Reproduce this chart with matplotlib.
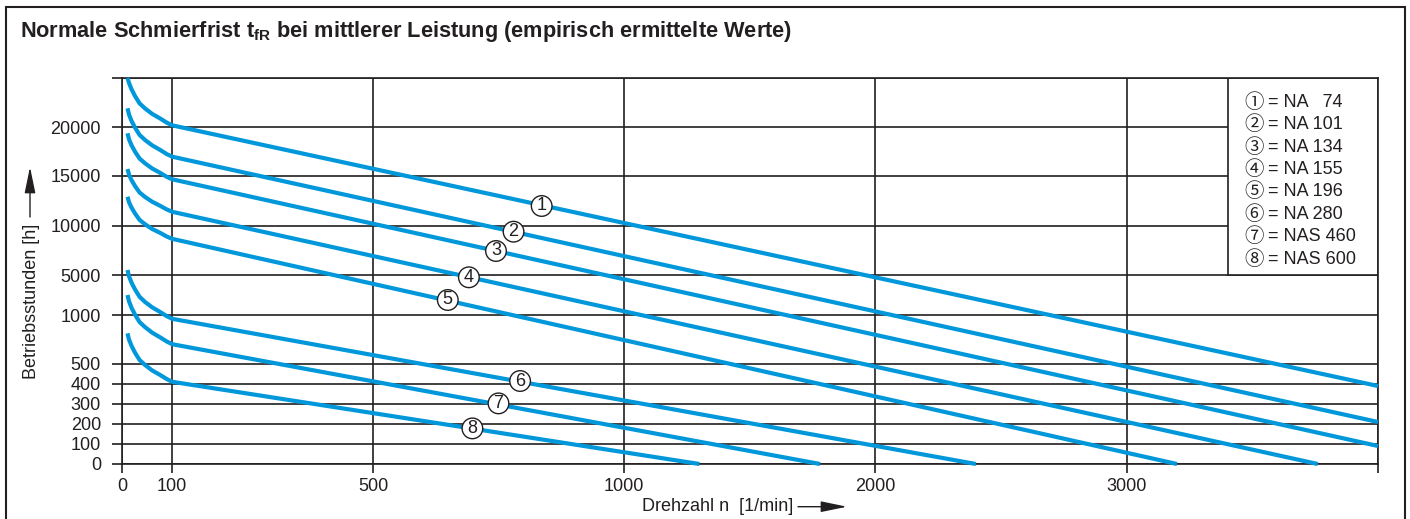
import numpy as np
import matplotlib
matplotlib.use("Agg")
import matplotlib.pyplot as plt
from matplotlib.patches import Rectangle

plt.rcParams["font.family"] = ["Liberation Sans", "DejaVu Sans"]
plt.rcParams["mathtext.fontset"] = "custom"
plt.rcParams["mathtext.rm"] = "Liberation Sans"
plt.rcParams["mathtext.bf"] = "Liberation Sans:bold"

# Kurven: Drehzahl n [1/min] und Schmierfrist [h]
n_anlauf = [11, 14, 19, 26, 35, 46, 60, 76, 89, 100]
n_ende = [4000, 4000, 4000, 3760, 3200, 2400, 1780, 1300]
t_ende = [390, 210, 90, 0, 0, 0, 0, 0]
stunden_anlauf = [
    [25000, 24490, 23850, 23150, 22410, 21890, 21340, 20870, 20450, 20170],
    [21910, 21270, 20620, 19930, 19190, 18670, 18130, 17660, 17240, 16970],
    [19360, 18740, 18130, 17480, 16780, 16290, 15770, 15320, 14920, 14670],
    [15710, 15140, 14590, 13990, 13350, 12900, 12430, 12020, 11660, 11420],
    [12930, 12380, 11840, 11250, 10610, 10170, 9700, 9300, 8930, 8690],
    [5510, 4870, 4230, 3550, 2820, 2300, 1770, 1300, 989, 961],
    [3000, 2360, 1720, 1030, 928, 876, 820, 772, 730, 702],
    [813, 749, 685, 615, 541, 495, 468, 445, 425, 411],
]
fette = ["NA   74", "NA 101", "NA 134", "NA 155", "NA 196", "NA 280", "NAS 460", "NAS 600"]
kreis = ["\u2460", "\u2461", "\u2462", "\u2463", "\u2464", "\u2465", "\u2466", "\u2467"]

# Lage der Kurvennummern
label_n = [836, 780, 745, 691, 649, 793, 750, 698]
label_t = [12000, 9420, 7450, 4770, 2500, 415, 303, 178]

x_ticks = [0, 100, 500, 1000, 2000, 3000, 4000]
x_labels = ["0", "100", "500", "1000", "2000", "3000", ""]
y_ticks = [0, 100, 200, 300, 400, 500, 1000, 5000, 10000, 15000, 20000, 25000]
y_labels = ["0", "100", "200", "300", "400", "500", "1000", "5000", "10000", "15000", "20000", ""]

# nichtlineare Achsenteilung wie im Diagramm
x_val = [0, 1000, 4000]
x_pos = [0, 502, 1256]
y_val = [0, 500, 1000, 5000, 10000, 15000, 20000, 25000]
y_pos = [0, 100, 149, 189, 238, 288, 337, 386]


def x_fwd(v):
    return np.interp(v, x_val, x_pos)


def x_inv(p):
    return np.interp(p, x_pos, x_val)


def y_fwd(v):
    return np.interp(v, y_val, y_pos)


def y_inv(p):
    return np.interp(p, y_pos, y_val)


W, H = 1410, 519
dunkel = "#231f20"
blau = "#0098da"
fs = 13

fig = plt.figure(figsize=(W / 100, H / 100), dpi=100)
ax = fig.add_axes([122 / W, 55 / H, (1378 - 122) / W, (464 - 78) / H])
ax.set_xscale("function", functions=(x_fwd, x_inv))
ax.set_yscale("function", functions=(y_fwd, y_inv))
ax.set_xlim(0, 4000)
ax.set_ylim(0, 25000)

ax.set_xticks(x_ticks)
ax.set_xticklabels(x_labels)
ax.set_yticks(y_ticks)
ax.set_yticklabels(y_labels)
ax.minorticks_off()
ax.tick_params(axis="both", colors=dunkel, labelcolor=dunkel, width=1.2,
               labelsize=fs, direction="out")
ax.tick_params(axis="x", length=6.5, pad=3.5)
ax.tick_params(axis="y", length=7.2, pad=8)
for s in ax.spines.values():
    s.set_color(dunkel)
    s.set_linewidth(1.2)
ax.set_axisbelow(True)
ax.grid(True, color=dunkel, lw=1.2)

for t, ne, te in zip(stunden_anlauf, n_ende, t_ende):
    ax.plot(n_anlauf + [ne], t + [te], color=blau, lw=3.0, solid_capstyle="butt",
            solid_joinstyle="round", zorder=3, clip_on=False)

for i, (n, t) in enumerate(zip(label_n, label_t)):
    ax.text(n, t, str(i + 1), ha="center", va="center", fontsize=fs, color=dunkel,
            zorder=5, bbox=dict(boxstyle="circle,pad=0.1", fc="white", ec=dunkel, lw=1.0))

# Legende
ax.add_patch(Rectangle((3404, 5000), 4000 - 3404, 20000, fc="white", ec=dunkel,
                       lw=1.2, zorder=2))
for i, (k, name) in enumerate(zip(kreis, fette)):
    y = 1 - (102.3 + i * 22.4) / H
    fig.text(1254 / W, y, k, ha="center", va="center", fontsize=14, color=dunkel,
             family=["Noto Sans CJK JP", "DejaVu Sans"])
    fig.text(1268 / W, y, "= " + name, ha="left", va="center", fontsize=fs,
             color=dunkel)

# Titel
fig.text(20 / W, 1 - 32 / H,
         r"Normale Schmierfrist t$_{\mathbf{fR}}$ bei mittlerer Leistung (empirisch ermittelte Werte)",
         fontsize=15.7, fontweight="bold", color=dunkel, ha="left", va="center")

# Achsenbeschriftungen mit Pfeilen
fig.text(31.7 / W, 1 - 301.5 / H, "Betriebsstunden [h]", rotation=90, ha="center",
         va="center", fontsize=fs, color=dunkel)
ax.annotate("", xy=(30 / W, 1 - 167 / H), xytext=(30 / W, 1 - 217 / H),
            xycoords="figure fraction", textcoords="figure fraction",
            arrowprops=dict(arrowstyle="-|>,head_length=1.6,head_width=0.33",
                            color=dunkel, lw=1.0, shrinkA=0, shrinkB=0))
fig.text(718 / W, 1 - 506.7 / H, "Drehzahl n  [1/min]", ha="center", va="center",
         fontsize=fs, color=dunkel)
ax.annotate("", xy=(847 / W, 1 - 506.7 / H), xytext=(798 / W, 1 - 506.7 / H),
            xycoords="figure fraction", textcoords="figure fraction",
            arrowprops=dict(arrowstyle="-|>,head_length=1.6,head_width=0.33",
                            color=dunkel, lw=1.0, shrinkA=0, shrinkB=0))

# Rahmen
fig.patches.append(Rectangle((6 / W, -0.02), (1405 - 6) / W, 1.02 - 7 / H,
                             transform=fig.transFigure, fill=False, ec=dunkel, lw=1.5))

fig.savefig("out.png", dpi=100)
